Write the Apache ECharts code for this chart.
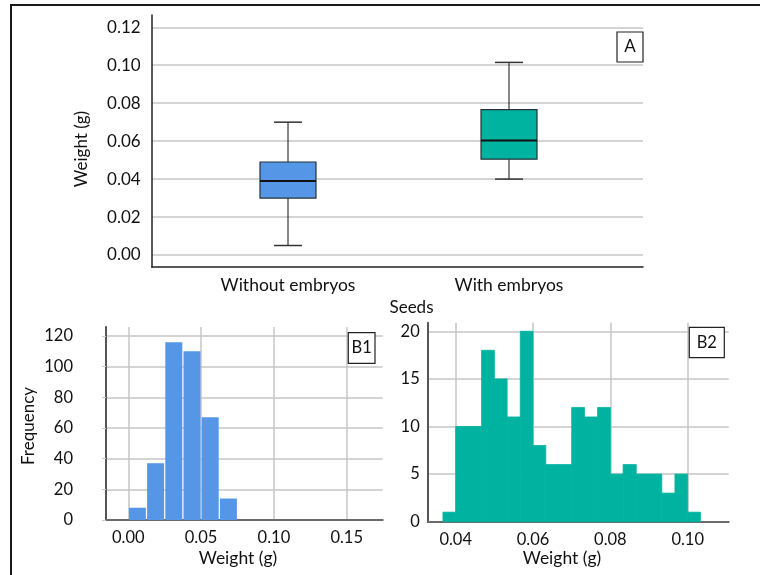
<!DOCTYPE html>
<html>
<head>
<meta charset="utf-8">
<script src="https://cdn.jsdelivr.net/npm/echarts@6/dist/echarts.min.js"></script>
<style>
html,body{margin:0;padding:0;background:#fff;}
#chart{width:760px;height:575px;}
</style>
</head>
<body>
<div id="chart"></div>
<script>
// ---- Data ----
const boxCategories = ['Without embryos', 'With embryos'];
// [min, Q1, median, Q3, max]
const boxWithout = [0.005, 0.030, 0.039, 0.049, 0.070];
const boxWith = [0.040, 0.0505, 0.0603, 0.0766, 0.1015];
const boxTicksA = [0, 0.02, 0.04, 0.06, 0.08, 0.10, 0.12];

const b1Edges = [0, 0.0125, 0.025, 0.0375, 0.05, 0.0625, 0.075];
const b1Counts = [8, 37, 116, 110, 67, 14];

const b2Edges = [0.0367, 0.04, 0.0433, 0.0467, 0.05, 0.0533, 0.0567, 0.06, 0.0633, 0.0667, 0.07,
                 0.0733, 0.0767, 0.08, 0.0833, 0.0867, 0.09, 0.0933, 0.0967, 0.10, 0.1033];
const b2Counts = [1, 10, 10, 18, 15, 11, 20, 8, 6, 6, 12, 11, 12, 5, 6, 5, 5, 3, 5, 1];

// ---- Styles ----
const FONT = 'Lato';
const TXT = '#111';
const BLUE = '#5596E6';
const TEAL = '#00B3A0';
const GRIDC = '#c6c6c6';

const boxData = [[0].concat(boxWithout), [1].concat(boxWith)];
const boxColors = [BLUE, TEAL];

function histData(edges, counts) {
  return counts.map((c, i) => [edges[i], edges[i + 1], c]);
}

function histRender(gap, color, seam) {
  return function (params, api) {
    const p0 = api.coord([api.value(0), 0]);
    const p1 = api.coord([api.value(1), api.value(2)]);
    const x = p0[0] + gap / 2;
    const w = p1[0] - p0[0] - gap;
    return {
      type: 'rect',
      shape: { x: x, y: p1[1], width: w, height: p0[1] - p1[1] },
      style: seam ? { fill: color, stroke: color, lineWidth: 0.8 } : { fill: color }
    };
  };
}

function boxRender(params, api) {
  const idx = api.value(0);
  const vmin = api.value(1), q1 = api.value(2), med = api.value(3), q3 = api.value(4), vmax = api.value(5);
  const pMin = api.coord([idx, vmin]);
  const pQ1 = api.coord([idx, q1]);
  const pMed = api.coord([idx, med]);
  const pQ3 = api.coord([idx, q3]);
  const pMax = api.coord([idx, vmax]);
  const cx = pMed[0];
  const hw = 28, cw = 14;
  const line = (x1, y1, x2, y2, w, c) => ({
    type: 'line', shape: { x1: x1, y1: y1, x2: x2, y2: y2 },
    style: { stroke: c || '#111', lineWidth: w || 1 }
  });
  return {
    type: 'group',
    children: [
      line(cx, pMax[1], cx, pQ3[1], 1),
      line(cx, pQ1[1], cx, pMin[1], 1),
      line(cx - cw, pMax[1], cx + cw, pMax[1], 1.5, '#333'),
      line(cx - cw, pMin[1], cx + cw, pMin[1], 1.5, '#333'),
      {
        type: 'rect',
        shape: { x: cx - hw, y: pQ3[1], width: 2 * hw, height: pQ1[1] - pQ3[1] },
        style: { fill: boxColors[idx], stroke: '#263238', lineWidth: 1.2 }
      },
      line(cx - hw, pMed[1], cx + hw, pMed[1], 2, '#111')
    ]
  };
}

const hidden = { show: false };
function frameAxes(gi, xc, yc, w) {
  return {
    x: { gridIndex: gi, type: 'value', min: 0, max: 1, axisLine: { show: true, onZero: false, lineStyle: { color: xc, width: w } },
         axisTick: hidden, axisLabel: hidden, splitLine: hidden },
    y: { gridIndex: gi, type: 'value', min: 0, max: 1, axisLine: { show: true, onZero: false, lineStyle: { color: yc, width: w } },
         axisTick: hidden, axisLabel: hidden, splitLine: hidden }
  };
}

const fA = frameAxes(0, '#222', '#222', 1.5);
const fB1 = frameAxes(3, '#6a6a6a', '#555', 2);
const fB2 = frameAxes(6, '#6a6a6a', '#555', 2);

const labelStyle = { color: TXT, fontFamily: FONT, fontSize: 16.5 };

const option = {
  backgroundColor: '#fff',
  animation: false,
  textStyle: { fontFamily: FONT },
  grid: [
    { left: 151.7, top: 15, width: 491.3, height: 252, outerBoundsMode: 'none' },      // 0 frame A
    { left: 151.7, top: 27.3, width: 491.3, height: 227.7, outerBoundsMode: 'none' },  // 1 gridlines A
    { left: 177.5, top: 27.3, width: 442, height: 227.7, outerBoundsMode: 'none' },    // 2 boxes A
    { left: 106, top: 327, width: 276.7, height: 193, outerBoundsMode: 'none' },       // 3 frame B1
    { left: 106, top: 336, width: 276.7, height: 184, outerBoundsMode: 'none' },       // 4 h B1
    { left: 128.3, top: 327, width: 218.4, height: 193, outerBoundsMode: 'none' },     // 5 v B1
    { left: 427.7, top: 322.7, width: 301, height: 199, outerBoundsMode: 'none' },     // 6 frame B2
    { left: 427.7, top: 331.3, width: 301, height: 190.4, outerBoundsMode: 'none' },   // 7 h B2
    { left: 455.7, top: 322.7, width: 232, height: 199, outerBoundsMode: 'none' }      // 8 v B2
  ],
  xAxis: [
    fA.x,
    { gridIndex: 1, type: 'value', min: 0, max: 1, show: false },
    { gridIndex: 2, type: 'category', data: boxCategories, boundaryGap: true,
      axisLine: hidden, axisTick: hidden, splitLine: hidden,
      axisLabel: Object.assign({ margin: 21 }, labelStyle, { fontSize: 17.5 }) },
    fB1.x,
    { gridIndex: 4, type: 'value', min: 0, max: 1, show: false },
    { gridIndex: 5, type: 'value', min: 0, max: 0.15, interval: 0.05,
      axisLine: hidden, axisTick: hidden,
      splitLine: { show: true, lineStyle: { color: GRIDC, width: 1.5 } },
      axisLabel: Object.assign({ margin: 9, formatter: v => v.toFixed(2) }, labelStyle) },
    fB2.x,
    { gridIndex: 7, type: 'value', min: 0, max: 1, show: false },
    { gridIndex: 8, type: 'value', min: 0.04, max: 0.10, interval: 0.02,
      axisLine: hidden, axisTick: hidden,
      splitLine: { show: true, lineStyle: { color: GRIDC, width: 1.5 } },
      axisLabel: Object.assign({ margin: 9, formatter: v => v.toFixed(2) }, labelStyle) }
  ],
  yAxis: [
    fA.y,
    { gridIndex: 1, type: 'value', min: 0, max: 0.12, interval: 0.02,
      axisLine: hidden, axisTick: hidden,
      splitLine: { show: true, lineStyle: { color: GRIDC, width: 1.5 } },
      axisLabel: Object.assign({ margin: 11, formatter: v => v.toFixed(2) }, labelStyle, { fontSize: 17 }) },
    { gridIndex: 2, type: 'value', min: 0, max: 0.12, show: false },
    fB1.y,
    { gridIndex: 4, type: 'value', min: 0, max: 120, interval: 20,
      axisLine: hidden,
      axisTick: { show: true, length: 4, lineStyle: { color: '#ccc' } },
      splitLine: { show: true, lineStyle: { color: GRIDC, width: 1.5 } },
      axisLabel: Object.assign({ margin: 33 }, labelStyle) },
    { gridIndex: 5, type: 'value', min: 0, max: 125.9, show: false },
    fB2.y,
    { gridIndex: 7, type: 'value', min: 0, max: 20, interval: 5,
      axisLine: hidden, axisTick: hidden,
      splitLine: { show: true, lineStyle: { color: GRIDC, width: 1.5 } },
      axisLabel: Object.assign({ margin: 8 }, labelStyle) },
    { gridIndex: 8, type: 'value', min: 0, max: 20.9, show: false }
  ],
  series: [
    { type: 'custom', name: 'Seeds', xAxisIndex: 2, yAxisIndex: 2, renderItem: boxRender,
      data: boxData, encode: { x: 0, y: [1, 2, 3, 4, 5] }, z: 5 },
    { type: 'custom', name: 'B1', xAxisIndex: 5, yAxisIndex: 5, renderItem: histRender(1.2, BLUE, false),
      data: histData(b1Edges, b1Counts), encode: { x: [0, 1], y: 2 }, z: 5 },
    { type: 'custom', name: 'B2', xAxisIndex: 8, yAxisIndex: 8, renderItem: histRender(0, TEAL, true),
      data: histData(b2Edges, b2Counts), encode: { x: [0, 1], y: 2 }, z: 5 }
  ],
  graphic: [
    // outer frame
    { type: 'polyline', shape: { points: [[11, 575], [11, 5], [760, 5]] },
      style: { stroke: '#1a1a1a', lineWidth: 2, fill: null }, z: 10 },
    // axis titles
    { type: 'text', x: 82, y: 149, rotation: Math.PI / 2,
      style: { text: 'Weight (g)', fill: TXT, font: '17px Lato', align: 'center', verticalAlign: 'middle' } },
    { type: 'text', x: 411.5, y: 308,
      style: { text: 'Seeds', fill: TXT, font: '17px Lato', align: 'center', verticalAlign: 'middle' } },
    { type: 'text', x: 29, y: 426, rotation: Math.PI / 2,
      style: { text: 'Frequency', fill: TXT, font: '17px Lato', align: 'center', verticalAlign: 'middle' } },
    { type: 'text', x: 238, y: 558,
      style: { text: 'Weight (g)', fill: TXT, font: '17.5px Lato', align: 'center', verticalAlign: 'middle' } },
    { type: 'text', x: 562, y: 558,
      style: { text: 'Weight (g)', fill: TXT, font: '17.5px Lato', align: 'center', verticalAlign: 'middle' } },
    // panel labels
    { type: 'rect', shape: { x: 617, y: 32, width: 26, height: 30 },
      style: { fill: '#fff', stroke: '#222', lineWidth: 1.2 }, z: 10 },
    { type: 'text', x: 630, y: 47, z: 11,
      style: { text: 'A', fill: TXT, font: '17px Lato', align: 'center', verticalAlign: 'middle' } },
    { type: 'rect', shape: { x: 348.3, y: 332.7, width: 26.7, height: 30.6 },
      style: { fill: '#fff', stroke: '#222', lineWidth: 1.2 }, z: 10 },
    { type: 'text', x: 361.7, y: 348, z: 11,
      style: { text: 'B1', fill: TXT, font: '16.5px Lato', align: 'center', verticalAlign: 'middle' } },
    { type: 'rect', shape: { x: 689.3, y: 327.3, width: 35, height: 30.4 },
      style: { fill: '#fff', stroke: '#222', lineWidth: 1.2 }, z: 10 },
    { type: 'text', x: 706.8, y: 342.5, z: 11,
      style: { text: 'B2', fill: TXT, font: '16.5px Lato', align: 'center', verticalAlign: 'middle' } }
  ]
};

const chart = echarts.init(document.getElementById('chart'), null, { renderer: 'canvas' });
chart.setOption(option);
</script>
</body>
</html>
